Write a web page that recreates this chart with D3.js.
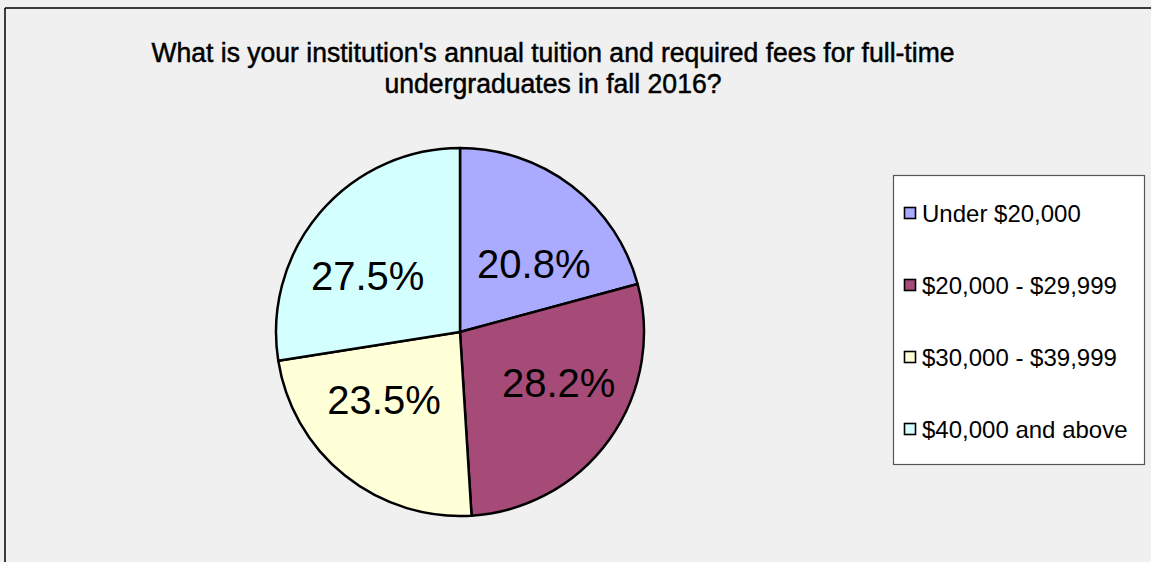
<!DOCTYPE html>
<html>
<head>
<meta charset="utf-8">
<script src="https://cdn.jsdelivr.net/npm/d3@7"></script>
<style>
  html, body { margin: 0; padding: 0; background: #f0f0f0; }
  svg { display: block; }
  text { font-family: "Liberation Sans", Arial, sans-serif; }
  .title { font-family: "Liberation Sans Narrow", "Arial Narrow", "Liberation Sans", sans-serif; }
</style>
</head>
<body>
<svg id="chart" width="1151" height="562"></svg>
<script>
// Tuition bands and their share of responding institutions (%)
const categories = ["Under $20,000", "$20,000 - $29,999", "$30,000 - $39,999", "$40,000 and above"];
const shares = [20.8, 28.2, 23.5, 27.5];
const colors = ["#aaaaff", "#a64b78", "#ffffd8", "#d4ffff"];
const titleLines = [
  "What is your institution's annual tuition and required fees for full-time",
  "undergraduates in fall 2016?"
];

const W = 1151, H = 562;
const svg = d3.select("#chart");

// Plot area background and frame (top and left edges)
svg.append("rect").attr("width", W).attr("height", H).attr("fill", "#f0f0f0");
svg.append("line").attr("x1", 5).attr("x2", W).attr("y1", 8).attr("y2", 8)
  .attr("stroke", "#000").attr("stroke-width", 1.5);
svg.append("line").attr("x1", 5).attr("x2", 5).attr("y1", 8).attr("y2", H)
  .attr("stroke", "#000").attr("stroke-width", 1.5);

// Title (condensed face, slightly heavy)
const title = svg.append("text")
  .attr("class", "title")
  .attr("text-anchor", "middle")
  .attr("font-size", 27)
  .attr("fill", "#000")
  .attr("stroke", "#000")
  .attr("stroke-width", 0.5);
title.append("tspan").attr("x", 553).attr("y", 62)
  .attr("textLength", 803).attr("lengthAdjust", "spacingAndGlyphs")
  .text(titleLines[0]);
title.append("tspan").attr("x", 553).attr("y", 93)
  .attr("textLength", 337).attr("lengthAdjust", "spacingAndGlyphs")
  .text(titleLines[1]);

// Pie
const cx = 460, cy = 332, R = 184;
const data = categories.map((c, i) => ({ cat: c, value: shares[i], color: colors[i] }));
const pie = d3.pie().value(d => d.value).sort(null);
const arcs = pie(data);
const arc = d3.arc().innerRadius(0).outerRadius(R);

// Percentage labels sit on a flattened ring inside the slices
const labelRx = R * 0.66, labelRy = R * 0.47;
const labelPos = d => {
  const a = (d.startAngle + d.endAngle) / 2;
  return [labelRx * Math.sin(a), -labelRy * Math.cos(a)];
};

const g = svg.append("g").attr("transform", `translate(${cx},${cy})`);
g.selectAll("path.slice")
  .data(arcs)
  .join("path")
  .attr("class", "slice")
  .attr("d", arc)
  .attr("fill", d => d.data.color)
  .attr("stroke", "#000")
  .attr("stroke-width", 2.5)
  .attr("stroke-linejoin", "round");

g.selectAll("text.pct")
  .data(arcs)
  .join("text")
  .attr("class", "pct")
  .attr("transform", d => {
    const [x, y] = labelPos(d);
    return `translate(${x},${y})`;
  })
  .attr("text-anchor", "middle")
  .attr("dy", "0.36em")
  .attr("font-size", 40)
  .attr("fill", "#000")
  .text(d => d.data.value.toFixed(1) + "%");

// Legend
const lg = svg.append("g").attr("transform", "translate(893,175)");
lg.append("rect").attr("x", 0.5).attr("y", 0.5).attr("width", 251).attr("height", 289)
  .attr("fill", "#fff").attr("stroke", "#555").attr("stroke-width", 1.2);

const rowY = d3.scalePoint().domain(categories).range([47, 263]);
const items = lg.selectAll("g.item")
  .data(data)
  .join("g")
  .attr("class", "item")
  .attr("transform", d => `translate(0,${rowY(d.cat)})`);
items.append("rect")
  .attr("x", 11.5).attr("y", -14.5).attr("width", 11).attr("height", 11)
  .attr("fill", d => d.color).attr("stroke", "#000").attr("stroke-width", 1.6);
items.append("text")
  .attr("x", 29).attr("y", 0)
  .attr("font-size", 24)
  .attr("fill", "#000")
  .text(d => d.cat);
</script>
</body>
</html>
